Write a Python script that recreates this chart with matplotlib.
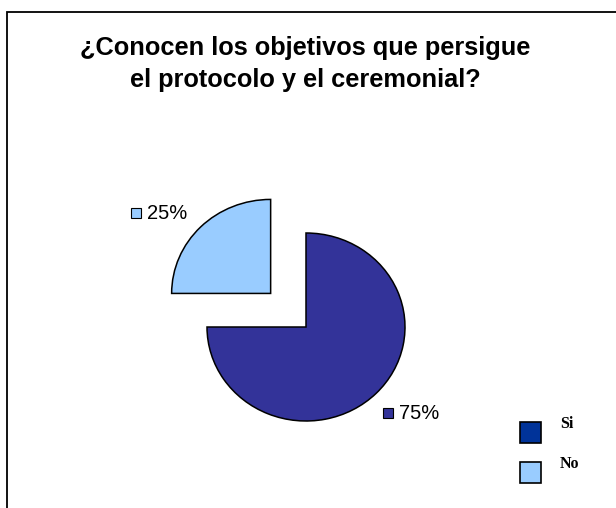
import math
import matplotlib
matplotlib.use("Agg")
import matplotlib.pyplot as plt
from matplotlib.patches import Rectangle

# data
categories = ["Si", "No"]
values = [75, 25]
pie_colors = ["#333399", "#99CCFF"]
legend_colors = ["#003399", "#99CCFF"]
title = "¿Conocen los objetivos que persigue\nel protocolo y el ceremonial?"

W, H = 616, 508
fig = plt.figure(figsize=(W / 100, H / 100), dpi=100)
ax = fig.add_axes([0, 0, 1, 1])
ax.set_xlim(0, W)
ax.set_ylim(0, H)
ax.axis("off")

# pie drawn on its own axes, slightly squashed vertically like the original
sy = 94 / 99
pax = fig.add_axes([0, 0, 1, 1])
radius = 99
wedges, _ = pax.pie(
    values,
    colors=pie_colors,
    startangle=90,
    counterclock=False,
    explode=[0, 50],
    radius=radius,
    center=(306, (H - 327) / sy),
    wedgeprops=dict(edgecolor="black", linewidth=1.1),
)
pax.set_aspect("auto")
pax.set_xlim(0, W)
pax.set_ylim(0, H / sy)
pax.axis("off")

# percentage labels with a small colour key
for w, v, c in zip(wedges, values, pie_colors):
    mid = math.radians((w.theta1 + w.theta2) / 2 + 6)
    gx = w.center[0] + 1.41 * radius * math.cos(mid)
    gy = (w.center[1] + 1.41 * radius * math.sin(mid)) * sy - 3
    ax.add_patch(Rectangle((gx - 31, gy - 5), 10, 10, facecolor=c,
                           edgecolor="black", linewidth=0.8))
    ax.text(gx - 15, gy, f"{v}%", ha="left", va="center",
            fontsize=14.5, family="Liberation Sans")

# legend
for i, (lab, col) in enumerate(zip(categories, legend_colors)):
    y0 = H - 443 - 40 * i
    ax.add_patch(Rectangle((520, y0), 21, 21, facecolor=col,
                           edgecolor="black", linewidth=1.2))
    ax.text(560, y0 + 19, lab, ha="left", va="center", fontsize=11.5,
            fontweight="bold", family="Liberation Serif")

fig.text(305 / W, 1 - 64 / H, title, ha="center", va="center",
         fontsize=18.3, fontweight="bold", family="Liberation Sans",
         linespacing=1.42)

# chart area border
fig.patches.append(Rectangle((7 / W, -0.1), 1.2, 1.1 - 12 / H,
                             transform=fig.transFigure, fill=False,
                             edgecolor="black", linewidth=1.3))

fig.savefig("out.png", dpi=100)
